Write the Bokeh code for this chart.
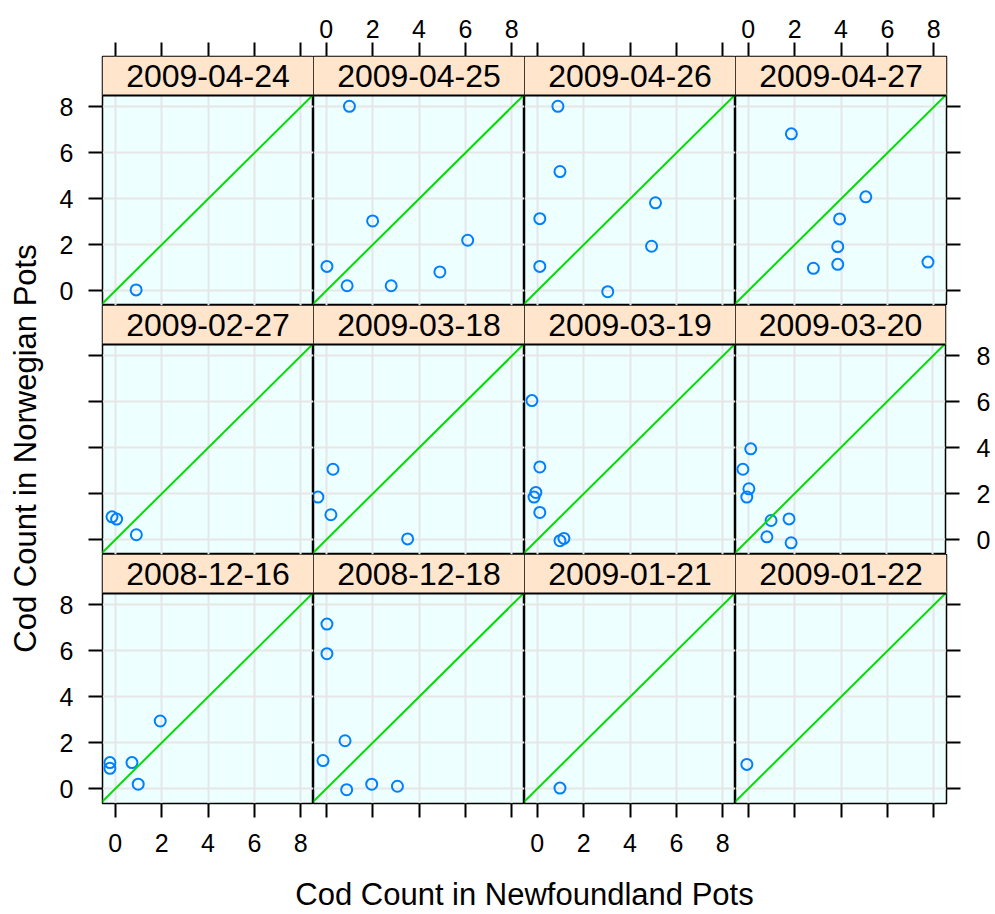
import math
from bokeh.plotting import figure
from bokeh.models import (Range1d, LinearAxis, FixedTicker, BoxAnnotation, Span,
                          Label, Slope, Grid)
from bokeh.layouts import row, column
from bokeh.embed import file_html
from bokeh.resources import INLINE

# ---------------- data (x = Newfoundland pots, y = Norwegian pots) ----------------
panel_dates = [
    ["2009-04-24", "2009-04-25", "2009-04-26", "2009-04-27"],
    ["2009-02-27", "2009-03-18", "2009-03-19", "2009-03-20"],
    ["2008-12-16", "2008-12-18", "2009-01-21", "2009-01-22"],
]

nf_2009_04_24 = [0.9]
nw_2009_04_24 = [0.04]
nf_2009_04_25 = [1.0, 2.0, 6.1, 0.03, 4.9, 0.9, 2.8]
nw_2009_04_25 = [8.03, 3.04, 2.2, 1.06, 0.82, 0.22, 0.22]
nf_2009_04_26 = [0.89, 0.98, 5.1, 0.11, 4.93, 0.11, 3.04]
nw_2009_04_26 = [8.03, 5.19, 3.83, 3.14, 1.94, 1.06, -0.04]
nf_2009_04_27 = [1.86, 5.07, 3.94, 3.86, 3.86, 2.81, 7.75]
nw_2009_04_27 = [6.83, 4.09, 3.13, 1.92, 1.15, 0.98, 1.25]
nf_2009_02_27 = [-0.14, 0.06, 0.91]
nw_2009_02_27 = [1.0, 0.9, 0.22]
nf_2009_03_18 = [0.29, -0.36, 0.2, 3.51]
nw_2009_03_18 = [3.07, 1.86, 1.09, 0.04]
nf_2009_03_19 = [-0.23, 0.11, -0.06, -0.14, 0.11, 0.98, 1.15]
nw_2009_03_19 = [6.06, 3.17, 2.06, 1.86, 1.19, -0.04, 0.06]
nf_2009_03_20 = [0.11, -0.23, 0.03, -0.06, 0.99, 1.77, 0.81, 1.86]
nw_2009_03_20 = [3.96, 3.07, 2.22, 1.86, 0.84, 0.91, 0.13, -0.13]
nf_2008_12_16 = [-0.23, -0.23, 0.72, 1.94, 0.99]
nw_2008_12_16 = [1.14, 0.89, 1.14, 2.95, 0.2]
nf_2008_12_18 = [0.03, 0.03, 0.81, -0.14, 0.88, 1.96, 3.07]
nw_2008_12_18 = [7.17, 5.88, 2.09, 1.23, -0.04, 0.2, 0.11]
nf_2009_01_21 = [0.98]
nw_2009_01_21 = [0.03]
nf_2009_01_22 = [-0.06]
nw_2009_01_22 = [1.06]

panel_data = {
    "2009-04-24": (nf_2009_04_24, nw_2009_04_24),
    "2009-04-25": (nf_2009_04_25, nw_2009_04_25),
    "2009-04-26": (nf_2009_04_26, nw_2009_04_26),
    "2009-04-27": (nf_2009_04_27, nw_2009_04_27),
    "2009-02-27": (nf_2009_02_27, nw_2009_02_27),
    "2009-03-18": (nf_2009_03_18, nw_2009_03_18),
    "2009-03-19": (nf_2009_03_19, nw_2009_03_19),
    "2009-03-20": (nf_2009_03_20, nw_2009_03_20),
    "2008-12-16": (nf_2008_12_16, nw_2008_12_16),
    "2008-12-18": (nf_2008_12_18, nw_2008_12_18),
    "2009-01-21": (nf_2009_01_21, nw_2009_01_21),
    "2009-01-22": (nf_2009_01_22, nw_2009_01_22),
}

tick_values = [0, 2, 4, 6, 8]
x_title = "Cod Count in Newfoundland Pots"
y_title = "Cod Count in Norwegian Pots"

# ---------------- style / layout ----------------
FONT = "Liberation Sans"
X_LIM = (-0.55, 8.55)
Y_LIM = (-0.64, 8.5)
FRAME_W = 211
PANEL_H = 210
STRIP_H = 39
FRAME_H = PANEL_H + STRIP_H
Y_TOP = Y_LIM[1] + STRIP_H * (Y_LIM[1] - Y_LIM[0]) / PANEL_H
STRIP_MID = (Y_LIM[1] + Y_TOP) / 2
X_MID = (X_LIM[0] + X_LIM[1]) / 2

YT_W = 52          # width of y-title figure
LEFT_B = 50        # left border of column-1 panels
RIGHT_B = 47       # right border of column-4 panels
TOP_B = 56         # top border of row-1 panels
BOT_B = 70         # bottom border of row-3 panels
XT_H = 40          # height of x-title figure

BG = "#EEFFFF"
STRIP = "#FFE5CC"
GRID = "#E6E6E6"
PT = "#0080FF"
LINE = "#00DD00"
TICK_FS = "25px"


def make_axis(show, standoff):
    ax = LinearAxis(ticker=FixedTicker(ticks=tick_values, minor_ticks=[]),
                    major_tick_out=14, major_tick_in=0,
                    minor_tick_out=0, minor_tick_in=0,
                    axis_line_color=None,
                    major_tick_line_color="black", major_tick_line_width=2,
                    major_label_text_font=FONT,
                    major_label_text_font_size=TICK_FS,
                    major_label_text_color="black",
                    major_label_standoff=standoff)
    if not show:
        ax.major_label_overrides = {t: "" for t in tick_values}
    return ax


def make_panel(date, r, c):
    left = LEFT_B if c == 0 else 0
    right = RIGHT_B if c == 3 else 0
    top = TOP_B if r == 0 else 0
    bottom = BOT_B if r == 2 else 0
    p = figure(width=FRAME_W + left + right, height=FRAME_H + top + bottom,
               x_range=Range1d(*X_LIM), y_range=Range1d(Y_LIM[0], Y_TOP),
               x_axis_location=None, y_axis_location=None,
               toolbar_location=None, output_backend="svg", title=None,
               min_border_left=left, min_border_right=right,
               min_border_top=top, min_border_bottom=bottom)
    p.center = []
    p.background_fill_color = BG
    p.border_fill_color = "white"
    p.outline_line_color = "black"
    p.outline_line_width = 1.5
    for dim in (0, 1):
        p.add_layout(Grid(dimension=dim, ticker=FixedTicker(ticks=tick_values),
                          grid_line_color=GRID, grid_line_width=2), "center")

    xs, ys = panel_data[date]
    p.add_layout(Slope(gradient=1, y_intercept=0, line_color=LINE, line_width=2))
    p.scatter(x=xs, y=ys, marker="circle", size=11, fill_color=None,
              line_color=PT, line_width=2)

    p.add_layout(BoxAnnotation(bottom=Y_LIM[1], fill_color=STRIP, fill_alpha=1,
                               line_color=None))
    p.add_layout(Span(location=Y_LIM[1], dimension="width", line_color="black",
                      line_width=2))
    p.add_layout(Label(x=X_MID, y=STRIP_MID, text=date, text_align="center",
                       text_baseline="middle", text_font=FONT,
                       text_font_size="32px", text_color="black"))

    if c == 0:
        p.add_layout(make_axis(r in (0, 2), 15), "left")
    if c == 3:
        p.add_layout(make_axis(r == 1, 17), "right")
    if r == 0:
        p.add_layout(make_axis(c in (1, 3), 5), "above")
    if r == 2:
        p.add_layout(make_axis(c in (0, 2), 16), "below")
    return p


rows = []
for r in range(3):
    rows.append(row(*[make_panel(panel_dates[r][c], r, c) for c in range(4)],
                    spacing=0))

grid_w = LEFT_B + 4 * FRAME_W + RIGHT_B
xt = figure(width=grid_w, height=XT_H, x_range=Range1d(0, grid_w),
            y_range=Range1d(0, XT_H), x_axis_location=None, y_axis_location=None,
            toolbar_location=None, output_backend="svg", title=None, min_border=0)
xt.center = []
xt.outline_line_color = None
xt.add_layout(Label(x=LEFT_B + 2 * FRAME_W, y=19, text=x_title,
                    text_align="center", text_baseline="middle",
                    text_font=FONT, text_font_size="31px", text_color="black"))

total_h = (TOP_B + FRAME_H) + FRAME_H + (FRAME_H + BOT_B) + XT_H
yt = figure(width=YT_W, height=total_h, x_range=Range1d(0, YT_W),
            y_range=Range1d(0, total_h), x_axis_location=None, y_axis_location=None,
            toolbar_location=None, output_backend="svg", title=None, min_border=0)
yt.center = []
yt.outline_line_color = None
yt.add_layout(Label(x=25, y=total_h - 448, text=y_title, angle=math.pi / 2,
                    text_align="center", text_baseline="middle",
                    text_font=FONT, text_font_size="31px", text_color="black"))

layout = row(yt, column(*rows, xt, spacing=0), spacing=0)

open("out.html", "w").write(file_html(layout, INLINE))
